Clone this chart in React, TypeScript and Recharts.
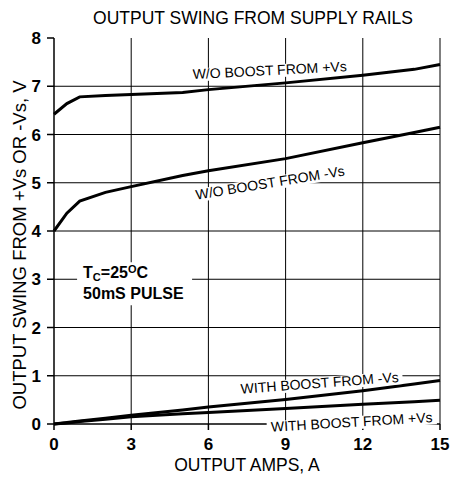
import React from "react";
import {
  LineChart,
  Line,
  XAxis,
  YAxis,
  CartesianGrid,
  ReferenceDot,
  ReferenceLine,
  Customized,
} from "recharts";

const amps = [0, 0.5, 1, 2, 3, 5, 6, 9, 12, 14, 15];
const woBoostPlus = [6.42, 6.64, 6.78, 6.81, 6.83, 6.87, 6.93, 7.07, 7.23, 7.35, 7.45];
const woBoostMinus = [4.0, 4.37, 4.62, 4.8, 4.92, 5.15, 5.25, 5.5, 5.83, 6.04, 6.15];
const withBoostMinus = [0, 0.03, 0.06, 0.12, 0.18, 0.29, 0.35, 0.51, 0.69, 0.83, 0.9];
const withBoostPlus = [0, 0.02, 0.05, 0.1, 0.15, 0.21, 0.24, 0.32, 0.41, 0.46, 0.49];

const xTicks = [0, 3, 6, 9, 12, 15];
const yTicks = [0, 1, 2, 3, 4, 5, 6, 7, 8];
const hGrid = [1, 2, 3, 4, 5, 6, 7];
const vGrid = [3, 6, 9, 12, 15];

const curveLabels = [
  { text: "W/O BOOST FROM +Vs", x: 8.39, y: 7.23, angle: -2.9, w: 160 },
  { text: "W/O BOOST FROM -Vs", x: 8.43, y: 4.9, angle: -9.3, w: 156 },
  { text: "WITH BOOST FROM -Vs", x: 10.34, y: 0.75, angle: -4.3, w: 166 },
  { text: "WITH BOOST FROM +Vs", x: 11.58, y: -0.06, angle: -3.5, w: 170 },
];

const data = amps.map((a, i) => ({
  a,
  woPlus: woBoostPlus[i],
  woMinus: woBoostMinus[i],
  wMinus: withBoostMinus[i],
  wPlus: withBoostPlus[i],
}));

const FONT = "'Liberation Sans', Arial, Helvetica, sans-serif";

const makeLabelShape = (text: string, angle: number, w: number) => (props: any) => {
  const { cx, cy } = props;
  if (cx == null || cy == null) return <g />;
  return (
    <g transform={`translate(${cx},${cy}) rotate(${angle})`}>
      <rect x={-w / 2} y={-10.5} width={w} height={13} fill="#fff" />
      <text x={0} y={0} textAnchor="middle" fontFamily={FONT} fontSize={14} fill="#000">
        {text}
      </text>
    </g>
  );
};

const NoteShape = (props: any) => {
  const { cx, cy } = props;
  if (cx == null || cy == null) return <g />;
  return (
    <g>
      <rect x={cx - 6} y={cy - 17} width={115} height={43} fill="#fff" />
      <text x={cx} y={cy - 1} fontFamily={FONT} fontSize={16} fontWeight="bold" fill="#000">
        T
        <tspan fontSize={11} dy={3}>C</tspan>
        <tspan dy={-3}>=25</tspan>
        <tspan fontSize={11} dy={-5}>O</tspan>
        <tspan dy={5}>C</tspan>
      </text>
      <text x={cx} y={cy + 20} fontFamily={FONT} fontSize={16} fontWeight="bold" fill="#000">
        50mS PULSE
      </text>
    </g>
  );
};

const Texts = () => (
  <g fontFamily={FONT} fill="#000">
    <text x={253} y={24} textAnchor="middle" fontSize={17.5}>
      OUTPUT SWING FROM SUPPLY RAILS
    </text>
    <text x={247} y={471} textAnchor="middle" fontSize={17.5}>
      OUTPUT AMPS, A
    </text>
    <text x={0} y={0} textAnchor="middle" fontSize={18.5} transform="translate(26,245) rotate(-90)">
      OUTPUT SWING FROM +Vs OR -Vs, V
    </text>
  </g>
);

export default function App() {
  return (
    <div style={{ position: "absolute", left: 0, top: 0, background: "#fff" }}>
      <LineChart
        width={452}
        height={478}
        data={data}
        margin={{ top: 38, right: 12, bottom: 0, left: 0 }}
      >
        <CartesianGrid stroke="#000" strokeWidth={1} horizontalValues={hGrid} verticalValues={vGrid} />
        <XAxis
          dataKey="a"
          type="number"
          domain={[0, 15]}
          ticks={xTicks}
          height={54}
          axisLine={false}
          tickLine={{ stroke: "#000", strokeWidth: 1.5 }}
          tickSize={6}
          tickMargin={8}
          tick={{ fill: "#000", fontSize: 17, fontWeight: "bold", fontFamily: FONT }}
          interval={0}
        />
        <YAxis
          type="number"
          domain={[0, 8]}
          ticks={yTicks}
          width={54}
          axisLine={{ stroke: "#000", strokeWidth: 1.5 }}
          tickLine={{ stroke: "#000", strokeWidth: 1.5 }}
          tickSize={7}
          tickMargin={6}
          tick={{ fill: "#000", fontSize: 17, fontWeight: "bold", fontFamily: FONT }}
          interval={0}
        />
        <ReferenceLine y={0} stroke="#000" strokeWidth={1.5} />
        <Line type="linear" dataKey="woPlus" stroke="#000" strokeWidth={3} dot={false} isAnimationActive={false} />
        <Line type="linear" dataKey="woMinus" stroke="#000" strokeWidth={3} dot={false} isAnimationActive={false} />
        <Line type="linear" dataKey="wMinus" stroke="#000" strokeWidth={3} dot={false} isAnimationActive={false} />
        <Line type="linear" dataKey="wPlus" stroke="#000" strokeWidth={3} dot={false} isAnimationActive={false} />
        {curveLabels.map((l) => (
          <ReferenceDot
            key={l.text}
            x={l.x}
            y={l.y}
            r={0}
            ifOverflow="visible"
            shape={makeLabelShape(l.text, l.angle, l.w)}
          />
        ))}
        <ReferenceDot x={1.13} y={3} r={0} ifOverflow="visible" shape={NoteShape} />
        <Customized component={Texts} />
      </LineChart>
    </div>
  );
}
